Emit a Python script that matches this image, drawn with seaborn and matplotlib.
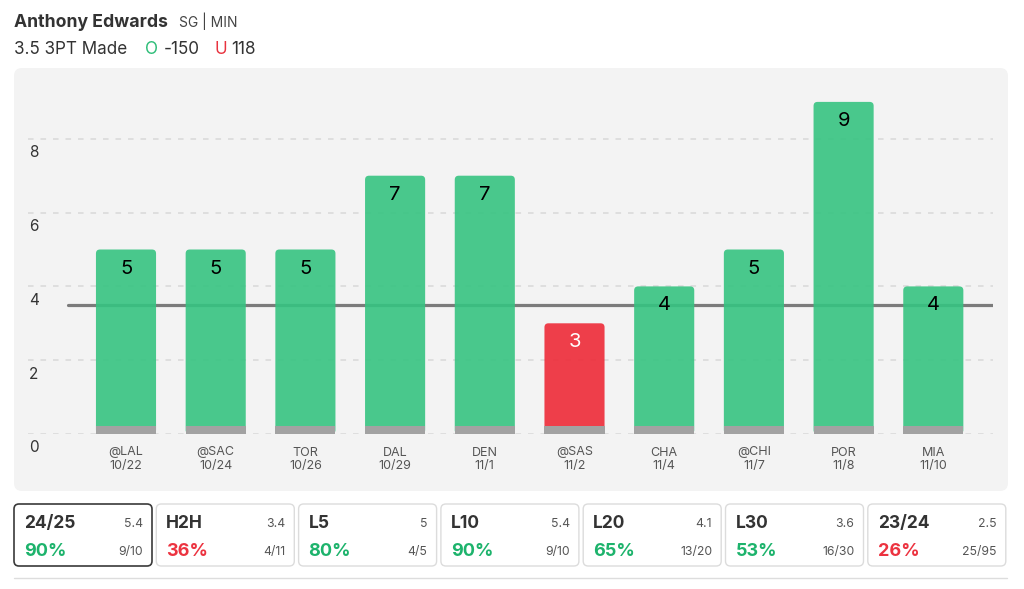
import matplotlib
matplotlib.use("Agg")
import matplotlib.pyplot as plt
import seaborn as sns
import pandas as pd
import numpy as np
from matplotlib.patches import FancyBboxPatch
from matplotlib.lines import Line2D

# ---------------- data ----------------
games = ["@LAL", "@SAC", "TOR", "DAL", "DEN", "@SAS", "CHA", "@CHI", "POR", "MIA"]
dates = ["10/22", "10/24", "10/26", "10/29", "11/1", "11/2", "11/4", "11/7", "11/8", "11/10"]
made = [5, 5, 5, 7, 7, 3, 4, 5, 9, 4]
line_value = 3.5
y_ticks = [0, 2, 4, 6, 8]

player = "Anthony Edwards"
player_info = "SG | MIN"
market = "3.5 3PT Made"
over_odds = "-150"
under_odds = "118"

card_labels = ["24/25", "H2H", "L5", "L10", "L20", "L30", "23/24"]
card_avgs = ["5.4", "3.4", "5", "5.4", "4.1", "3.6", "2.5"]
card_pcts = [90, 36, 80, 90, 65, 53, 26]
card_hits = ["9/10", "4/11", "4/5", "9/10", "13/20", "16/30", "25/95"]

# ---------------- style ----------------
GREEN_BAR = "#36c481"
RED_BAR = "#ee2a38"
GREY_BASE = "#a2a2a2"
PANEL = "#f3f3f3"
GREEN_TXT = "#1db36c"
RED_TXT = "#ec3340"
DARK = "#333333"
MID = "#555555"

sns.set_style("white")
plt.rcParams["font.family"] = ["Inter", "DejaVu Sans"]
plt.rcParams["lines.scale_dashes"] = False

W, H = 1024, 589
fig = plt.figure(figsize=(W / 100, H / 100), dpi=100)
fig.patch.set_facecolor("white")

# overlay axes in pixel coordinates for panel, header, cards
bg = fig.add_axes([0, 0, 1, 1], zorder=0)
bg.set_xlim(0, W)
bg.set_ylim(H, 0)
bg.axis("off")

bg.add_patch(FancyBboxPatch((14, 68), 994, 423, boxstyle="round,pad=0,rounding_size=8",
                            facecolor=PANEL, edgecolor="none"))

# header
bg.text(14, 27, player, fontsize=12.7, fontweight="bold", color=DARK, va="baseline", ha="left")
bg.text(179, 27, player_info, fontsize=10, color="#444444", va="baseline", ha="left")
bg.text(14, 54, market, fontsize=12.3, color=DARK, va="baseline", ha="left")
bg.text(145, 54, "O", fontsize=12.3, color="#2dbd78", va="baseline", ha="left")
bg.text(164, 54, over_odds, fontsize=12.3, color=DARK, va="baseline", ha="left")
bg.text(214, 54, "U", fontsize=12.3, color="#e8333f", va="baseline", ha="left")
bg.text(231, 54, under_odds, fontsize=12.3, color=DARK, va="baseline", ha="left")

# cards
card_w, card_h, pitch, x0, y0 = 138, 62, 142.3, 14, 504
for i, (lab, avg, pct, hit) in enumerate(zip(card_labels, card_avgs, card_pcts, card_hits)):
    cx = x0 + i * pitch
    edge = "#3a3a3a" if i == 0 else "#dcdcdc"
    lw = 1.2 if i == 0 else 1.0
    bg.add_patch(FancyBboxPatch((cx, y0), card_w, card_h, boxstyle="round,pad=0,rounding_size=5",
                                facecolor="white", edgecolor=edge, linewidth=lw))
    bg.text(cx + 10, 528, lab, fontsize=12.5, fontweight="bold", color=DARK, va="baseline")
    bg.text(cx + card_w - 9, 527, avg, fontsize=8.8, color=MID, va="baseline", ha="right")
    pc = GREEN_TXT if pct >= 50 else RED_TXT
    bg.text(cx + 10, 555.5, f"{pct}%", fontsize=13, fontweight="bold", color=pc, va="baseline")
    bg.text(cx + card_w - 9, 555, hit, fontsize=8.8, color=MID, va="baseline", ha="right")

bg.add_line(Line2D([14, 1007], [578, 578], color="#dddddd", linewidth=1))

# ---------------- main chart ----------------
px_unit = 36.9       # pixels per data unit (y)
px_cat = 89.7        # pixels per category
zero_px = 434
center0 = 126
ax_left, ax_right, ax_top = 28, 993, 80
ax = fig.add_axes([ax_left / W, 1 - zero_px / H, (ax_right - ax_left) / W, (zero_px - ax_top) / H], zorder=1)
ax.set_facecolor("none")

df = pd.DataFrame({"game": games, "made": made,
                   "result": ["over" if m > line_value else "under" for m in made]})

for yt in y_ticks:
    ax.axhline(yt, color="#dcdcdc", linewidth=1.3, linestyle=(0, (4, 5)), zorder=1)

line_start = (68 - ax_left) / (ax_right - ax_left)
ax.axhline(line_value, xmin=line_start, xmax=1, color="#7b7b7b", linewidth=2.3, zorder=2)

sns.barplot(data=df, x="game", y="made", hue="result", order=games,
            palette={"over": GREEN_BAR, "under": RED_BAR}, dodge=False, width=0.67,
            saturation=1, alpha=0.9, errorbar=None, legend=False, ax=ax, zorder=3,
            linewidth=0, edgecolor="none")

# round the bar corners (restyle seaborn's bar patches)
radius_px = 4
for p in list(ax.patches):
    h = p.get_height()
    if not np.isfinite(h) or h <= 0:
        continue
    fb = FancyBboxPatch((p.get_x(), p.get_y()), p.get_width(), h,
                        boxstyle=f"round,pad=0,rounding_size={radius_px / px_cat}",
                        mutation_aspect=px_cat / px_unit,
                        facecolor=p.get_facecolor(), edgecolor="none", linewidth=0, zorder=3)
    p.remove()
    ax.add_patch(fb)

base_h = 0.22
sns.barplot(x=games, y=[base_h] * len(games), order=games, color=GREY_BASE, width=0.67,
            saturation=1, errorbar=None, ax=ax, zorder=4, linewidth=0, edgecolor="none")

for i, (m, r) in enumerate(zip(df["made"], df["result"])):
    ax.text(i, m - 19 / px_unit, str(m), ha="center", va="center", fontsize=14.5,
            color="black" if r == "over" else "white", zorder=5)

ax.set_xlim((ax_left - center0) / px_cat, (ax_right - center0) / px_cat)
ax.set_ylim(0, (zero_px - ax_top) / px_unit)

ax.set_xticks(range(len(games)))
ax.set_xticklabels([f"{g}\n{d}" for g, d in zip(games, dates)], fontsize=9, color=MID,
                   linespacing=1.15)
ax.tick_params(axis="x", length=0, pad=9)
ax.set_yticks([])
ax.set_xlabel("")
ax.set_ylabel("")
for s in ax.spines.values():
    s.set_visible(False)

for yt in y_ticks:
    ax.text((34 - center0) / px_cat, yt - 14 / px_unit, str(yt), ha="center", va="center",
            fontsize=11, color=DARK, clip_on=False)

fig.savefig("out.png", dpi=100, facecolor="white")
